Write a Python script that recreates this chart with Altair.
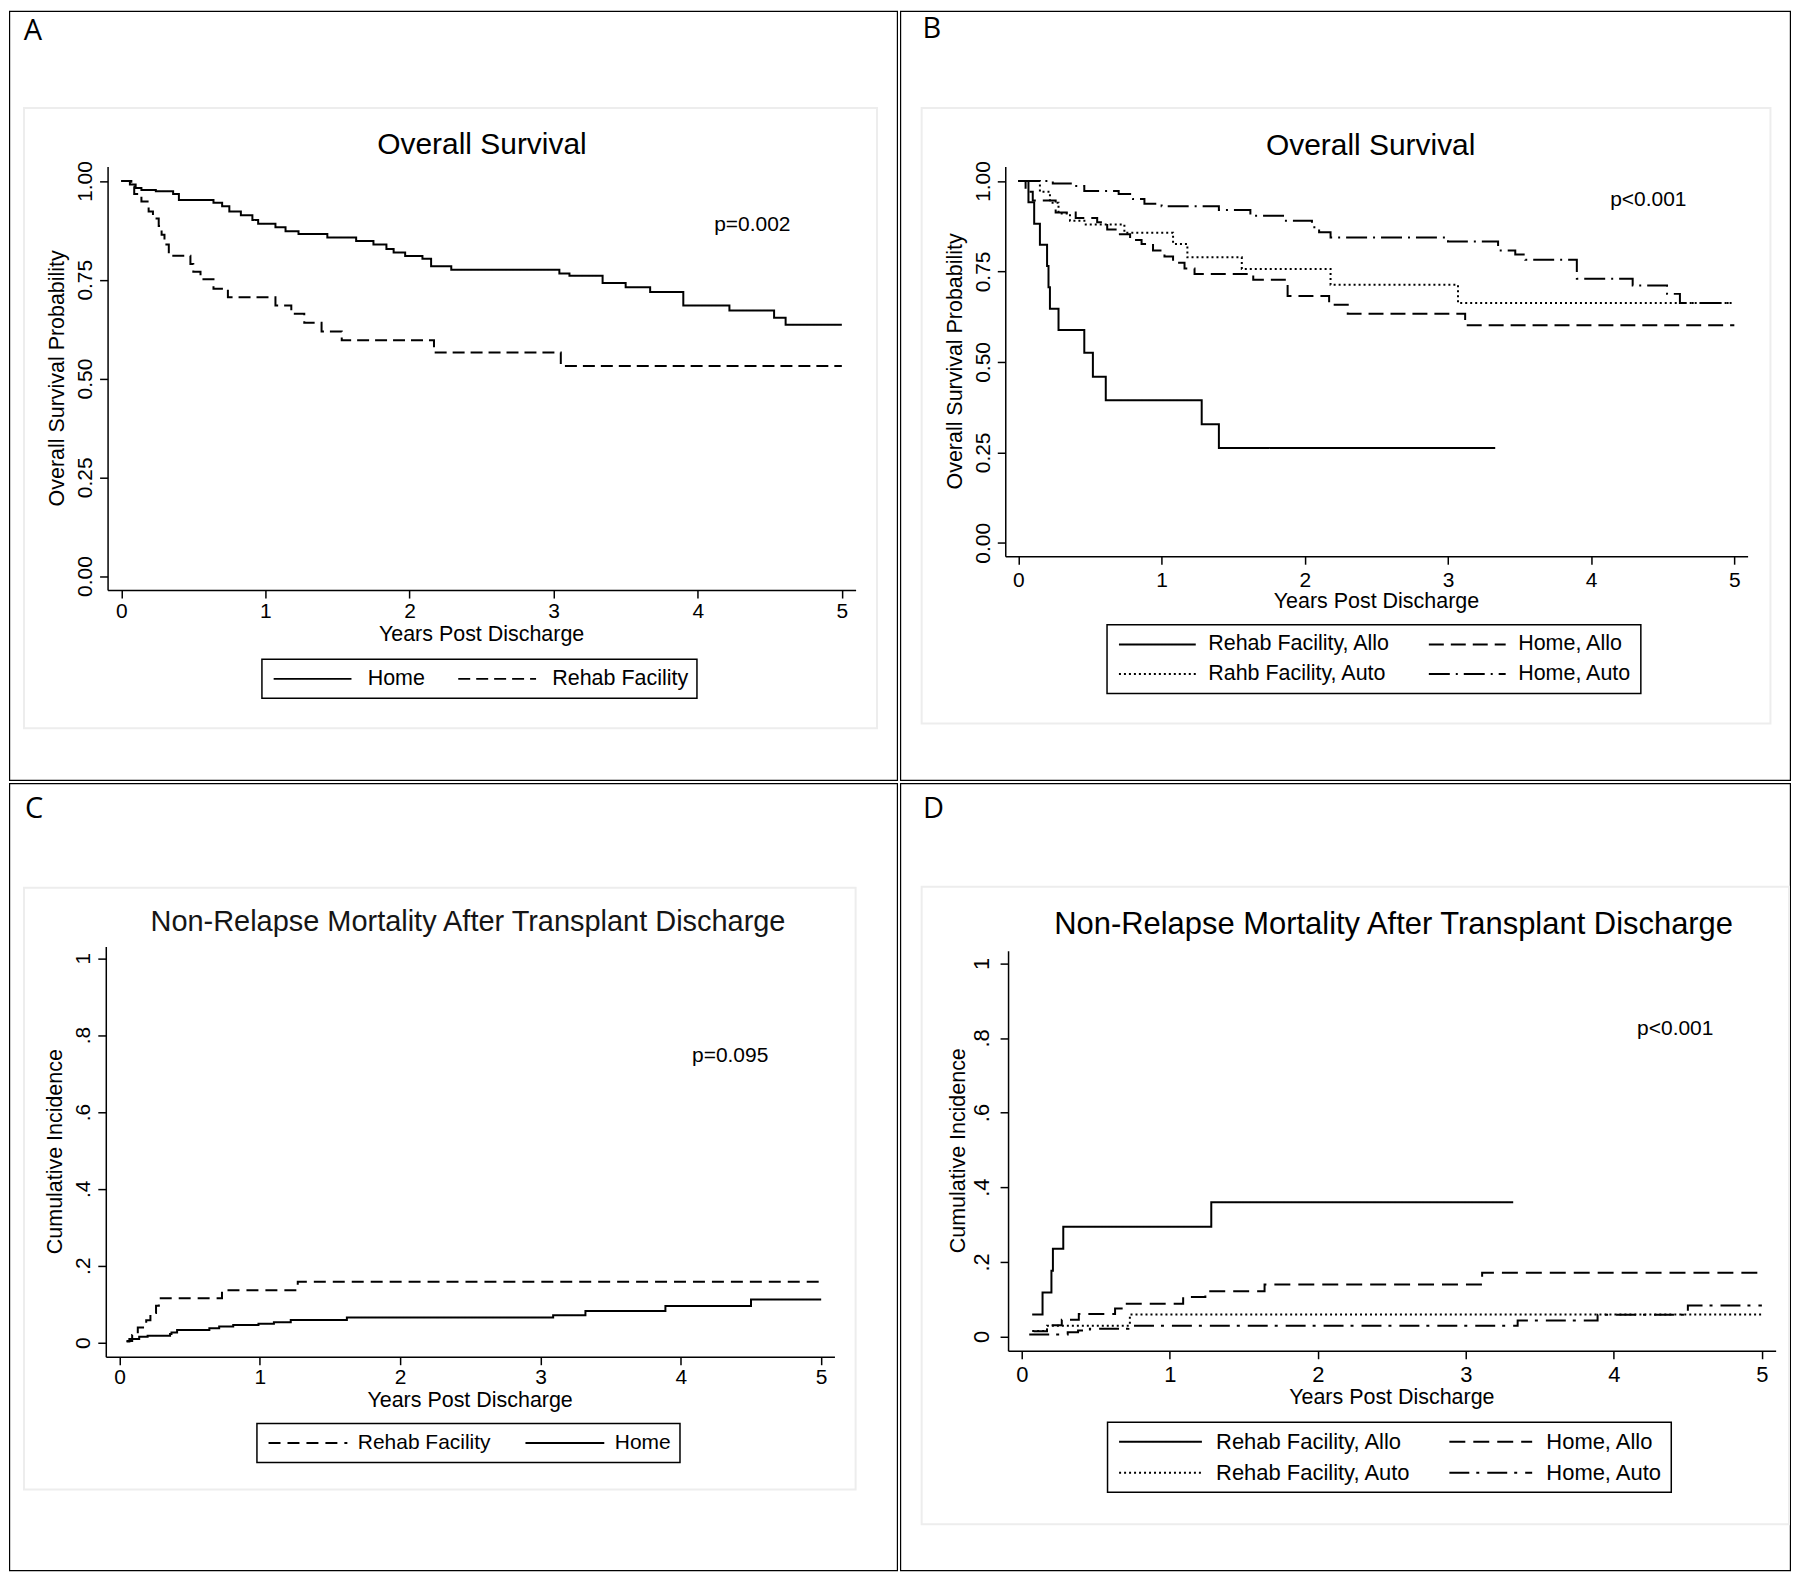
import altair as alt
import pandas as pd

# ---------------- data ----------------
# Panel A : Overall survival by discharge destination
A_home_t = [0, 0.06, 0.10, 0.14, 0.24, 0.36, 0.40, 0.64, 0.70, 0.75, 0.83, 0.91, 0.95, 1.07, 1.14, 1.23, 1.43, 1.63, 1.75, 1.84,
            1.89, 1.97, 2.09, 2.15, 2.29, 3.04, 3.11, 3.34, 3.50, 3.67, 3.90, 4.22, 4.53, 4.61, 5.0]
A_home_v = [1.0, 0.991, 0.982, 0.977, 0.974, 0.967, 0.952, 0.945, 0.936, 0.923, 0.913, 0.901, 0.892, 0.883, 0.873, 0.866, 0.857, 0.848, 0.839, 0.828,
            0.819, 0.810, 0.803, 0.784, 0.775, 0.766, 0.760, 0.742, 0.731, 0.719, 0.685, 0.672, 0.654, 0.636, 0.636]
A_rehab_t = [0, 0.07, 0.09, 0.14, 0.19, 0.22, 0.26, 0.28, 0.30, 0.33, 0.48, 0.50, 0.55, 0.64, 0.74, 1.07, 1.18, 1.27, 1.39, 1.53, 2.17, 3.05, 5.0]
A_rehab_v = [1.0, 0.986, 0.967, 0.948, 0.923, 0.905, 0.886, 0.864, 0.839, 0.811, 0.790, 0.770, 0.751, 0.727, 0.706, 0.685, 0.664, 0.641, 0.619, 0.597, 0.566, 0.532, 0.532]

# Panel B : Overall survival by destination and transplant type
B_rallo_t = [0, 0.07, 0.11, 0.15, 0.20, 0.21, 0.22, 0.28, 0.46, 0.52, 0.61, 1.28, 1.40, 3.33]
B_rallo_v = [1.0, 0.941, 0.882, 0.824, 0.765, 0.706, 0.647, 0.588, 0.525, 0.459, 0.394, 0.328, 0.262, 0.262]
B_hallo_t = [0, 0.05, 0.10, 0.26, 0.40, 0.55, 0.62, 0.70, 0.78, 0.86, 0.94, 1.02, 1.08, 1.16, 1.23, 1.64, 1.88, 2.17, 2.30, 3.12, 5.0]
B_hallo_v = [1.0, 0.97, 0.946, 0.913, 0.898, 0.886, 0.866, 0.853, 0.837, 0.826, 0.808, 0.791, 0.774, 0.758, 0.743, 0.727, 0.682, 0.658, 0.633, 0.601, 0.601]
B_rauto_t = [0, 0.15, 0.22, 0.28, 0.36, 0.47, 0.74, 1.08, 1.18, 1.56, 2.18, 3.07, 5.0]
B_rauto_v = [1.0, 0.97, 0.94, 0.91, 0.89, 0.88, 0.857, 0.826, 0.789, 0.757, 0.713, 0.663, 0.663]
B_hauto_t = [0, 0.24, 0.38, 0.46, 0.70, 0.80, 0.88, 1.00, 1.40, 1.62, 1.86, 2.05, 2.10, 2.18, 3.00, 3.35, 3.47, 3.54, 3.90, 4.29, 4.53, 4.62, 5.0]
B_hauto_v = [1.0, 0.993, 0.986, 0.972, 0.964, 0.95, 0.937, 0.93, 0.92, 0.904, 0.89, 0.872, 0.858, 0.844, 0.833, 0.808, 0.797, 0.782, 0.73, 0.711, 0.688, 0.663, 0.663]

# Panel C : Non-relapse mortality by destination
C_rehab_t = [0.05, 0.09, 0.13, 0.19, 0.22, 0.26, 0.28, 0.73, 1.27, 5.0]
C_rehab_v = [0.004, 0.02, 0.039, 0.058, 0.077, 0.096, 0.115, 0.136, 0.158, 0.158]
C_home_t = [0.05, 0.07, 0.14, 0.20, 0.36, 0.37, 0.41, 0.64, 0.71, 0.81, 0.99, 1.10, 1.22, 1.62, 3.09, 3.32, 3.89, 4.50, 5.0]
C_home_v = [0.003, 0.009, 0.015, 0.018, 0.022, 0.026, 0.033, 0.037, 0.042, 0.046, 0.049, 0.053, 0.059, 0.065, 0.071, 0.082, 0.095, 0.112, 0.112]

# Panel D : Non-relapse mortality by destination and transplant type
D_rallo_t = [0.07, 0.14, 0.20, 0.21, 0.28, 1.28, 3.32]
D_rallo_v = [0.059, 0.118, 0.176, 0.235, 0.294, 0.36, 0.36]
D_hallo_t = [0.08, 0.17, 0.27, 0.385, 0.63, 0.70, 1.09, 1.24, 1.64, 3.11, 5.0]
D_hallo_v = [0.014, 0.03, 0.045, 0.06, 0.075, 0.088, 0.106, 0.121, 0.139, 0.171, 0.171]
D_rauto_t = [0.07, 0.17, 0.73, 5.0]
D_rauto_v = [0.015, 0.029, 0.059, 0.059]
D_hauto_t = [0.05, 0.31, 0.38, 0.46, 0.72, 3.35, 3.89, 4.5, 5.0]
D_hauto_v = [0.005, 0.011, 0.016, 0.021, 0.029, 0.043, 0.058, 0.083, 0.083]

X_TICKS = [0, 1, 2, 3, 4, 5]
OS_TICKS = [0, 0.25, 0.5, 0.75, 1.0]
CI_TICKS = [0, 0.2, 0.4, 0.6, 0.8, 1.0]

FONT = "Liberation Sans"
LETTER_FONT = "Open Sans"

SOLID = [1, 0]
DOT = [2, 3]


def long_df(groups):
    rows = []
    for name, ts, vs in groups:
        for t, v in zip(ts, vs):
            rows.append({"t": t, "v": v, "grp": name})
    return pd.DataFrame(rows)


def one():
    return alt.Chart(pd.DataFrame({"k": [0]}))


def panel(c, df, order, dashes, yticks, ylabexpr):
    ox, oy, W, H = c["ox"], c["oy"], c["W"], c["H"]
    x0, x5 = c["x0"] - ox, c["x5"] - ox
    ppx = (x5 - x0) / 5.0
    axl, axr = c["axl"] - ox, c["axr"] - ox
    y1, y0 = c["y1"] - oy, c["y0"] - oy
    ppy = y0 - y1
    axt, axb = c["axt"] - oy, c["axb"] - oy
    xdom = [(axl - x0) / ppx, (axr - x0) / ppx]
    ydom = [(y0 - axb) / ppy, (y0 - axt) / ppy]
    tick = 8
    tfs = c["tfs"]
    xlabpad = (c["xlab"] - oy) - 0.432 * tfs - axb - tick
    ylabpad = axl - tick - ((c["ylab"] - ox) + 0.568 * tfs)

    border = one().mark_rect(fillOpacity=0, stroke="black", strokeWidth=1.2).encode(
        x=alt.value(0.6), x2=alt.value(W - 0.6), y=alt.value(0.6), y2=alt.value(H - 0.6))
    g = c["gbox"]
    gray = one().mark_rect(fillOpacity=0, stroke="#ededed", strokeWidth=2).encode(
        x=alt.value(g[0] - ox), x2=alt.value(min(g[2] - ox, W - 2)),
        y=alt.value(g[1] - oy), y2=alt.value(g[3] - oy))
    letter = one().mark_text(text=c["letter"], font=LETTER_FONT, fontSize=29, align="left",
                             baseline="alphabetic", color="black").encode(
        x=alt.value(c["lx"] - ox), y=alt.value(c["ly"] - oy))
    title = one().mark_text(text=c["title"], font=FONT, fontSize=c["titlefs"], align="center",
                            baseline="middle", color=c.get("titlecolor", "black")).encode(
        x=alt.value(c["tx"] - ox), y=alt.value(c["ty"] - oy))
    ptext = one().mark_text(text=c["p"], font=FONT, fontSize=21, align="center",
                            baseline="middle", color="black").encode(
        x=alt.value(c["px"] - ox), y=alt.value(c["py"] - oy))
    xtitle = one().mark_text(text="Years Post Discharge", font=FONT, fontSize=21.5, align="center",
                             baseline="middle", color="black").encode(
        x=alt.value((axl + axr) / 2), y=alt.value(axb + c.get("xtoff", 45.5)))
    ytitle = one().mark_text(text=c["ytitle"], font=FONT, fontSize=21.5, align="center",
                             baseline="middle", angle=270, color="black").encode(
        x=alt.value(axl - 49.5), y=alt.value((axt + axb) / 2))

    L = c["L"]
    slot = L / 6.0
    leg = alt.Legend(
        title=None, orient="none", legendX=c["legx"] - ox, legendY=c["legy"] - oy,
        columns=2, strokeColor="black", padding=c["lpad"],
        symbolType="M-6,0H6", symbolSize=slot * slot, symbolStrokeWidth=2,
        symbolStrokeColor="black", symbolOffset=L / 2.0 - 0.5 * (slot + 2),
        labelFont=FONT, labelFontSize=c["lfs"], labelColor="black",
        labelOffset=c["loff"], labelLimit=500, columnPadding=c["colgap"],
        rowPadding=c.get("rowpad", 2),
    )

    xaxis = alt.Axis(values=X_TICKS, format="d", title=None, offset=axb - H, grid=False,
                     tickSize=tick, tickWidth=1.5, tickColor="black", domainColor="black",
                     domainWidth=1.5, labelColor="black", labelFont=FONT, labelFontSize=tfs,
                     labelPadding=xlabpad, labelFlush=False, labelOverlap=False)
    yaxis = alt.Axis(values=yticks, labelExpr=ylabexpr, title=None, offset=-axl, grid=False,
                     tickSize=tick, tickWidth=1.5, tickColor="black", domainColor="black",
                     domainWidth=1.5, labelColor="black", labelFont=FONT, labelFontSize=tfs,
                     labelPadding=ylabpad, labelAngle=270, labelAlign="center",
                     labelBaseline="bottom", labelFlush=False, labelOverlap=False)

    lines = alt.Chart(df).mark_line(interpolate="step-after", strokeWidth=2, color="black").encode(
        x=alt.X("t:Q", scale=alt.Scale(domain=xdom, range=[axl, axr], nice=False, zero=False), axis=xaxis),
        y=alt.Y("v:Q", scale=alt.Scale(domain=ydom, range=[axb, axt], nice=False, zero=False), axis=yaxis),
        strokeDash=alt.StrokeDash("grp:N", scale=alt.Scale(domain=order, range=dashes), legend=leg),
    )
    return alt.layer(border, gray, letter, title, ptext, xtitle, ytitle, lines).properties(width=W, height=H)


OS_LAB = "format(datum.value, '.2f')"
CI_LAB = "datum.value == 0 ? '0' : datum.value == 1 ? '1' : '.' + format(round(datum.value * 10), 'd')"

cfgA = dict(ox=8, oy=8, W=891, H=772, x0=120.5, x5=842.7, axl=106.8, axr=856.5,
            y1=178.6, y0=574.6, axt=164.2, axb=588.6, tfs=21, xlab=608.5, ylab=83,
            letter="A", lx=22.7, ly=37.5, title="Overall Survival", titlefs=30, tx=482, ty=143,
            p="p=0.002", px=753, py=223, gbox=(23, 105.5, 878, 727),
            ytitle="Overall Survival Probability",
            L=78, legx=261.5, legy=658, lpad=8.5, lfs=21.5, loff=44.5, colgap=29)
cfgB = dict(ox=899, oy=8, W=893, H=772, x0=1017.7, x5=1735.2, axl=1004.5, axr=1748.5,
            y1=178.6, y0=541.3, axt=164.2, axb=554.7, tfs=21, xlab=577.3, ylab=980.4,
            letter="B", lx=921.5, ly=35.5, title="Overall Survival", titlefs=30, tx=1370.7, ty=143.5,
            p="p<0.001", px=1649, py=197.5, gbox=(920.7, 105.5, 1771.4, 722.4),
            ytitle="Overall Survival Probability",
            L=77, legx=1106.5, legy=623.4, lpad=8.6, lfs=21.5, loff=40.3, colgap=33.6, rowpad=7)
cfgC = dict(ox=8, oy=780, W=891, H=790, x0=118.8, x5=822, axl=105, axr=835.3,
            y1=955.6, y0=1340.8, axt=943.9, axb=1355, tfs=21, xlab=1373.5, ylab=80.4,
            letter="C", lx=24, ly=815.5, title="Non-Relapse Mortality After Transplant Discharge",
            titlefs=29, titlecolor="#151515", tx=468, ty=919.5,
            p="p=0.095", px=730.8, py=1054, gbox=(23, 885, 856.5, 1488),
            ytitle="Cumulative Incidence", xtoff=44.5,
            L=79, legx=256.5, legy=1422, lpad=8.7, lfs=21, loff=39.5, colgap=29.5)
cfgD = dict(ox=899, oy=780, W=893, H=790, x0=1021.1, x5=1762.8, axl=1007.3, axr=1776.6,
            y1=960.7, y0=1334.7, axt=948, axb=1349, tfs=22, xlab=1372.2, ylab=980.4,
            letter="D", lx=922, ly=815.5, title="Non-Relapse Mortality After Transplant Discharge",
            titlefs=31, tx=1393.7, ty=922.5,
            p="p<0.001", px=1676, py=1027, gbox=(920.7, 884, 1800, 1523),
            ytitle="Cumulative Incidence", xtoff=47.5,
            L=83, legx=1107, legy=1420.7, lpad=8.5, lfs=22, loff=44.7, colgap=34, rowpad=9)

dfA = long_df([("Home", A_home_t, A_home_v), ("Rehab Facility", A_rehab_t, A_rehab_v)])
dfB = long_df([("Rehab Facility, Allo", B_rallo_t, B_rallo_v), ("Home, Allo", B_hallo_t, B_hallo_v),
               ("Rahb Facility, Auto", B_rauto_t, B_rauto_v), ("Home, Auto", B_hauto_t, B_hauto_v)])
dfC = long_df([("Rehab Facility", C_rehab_t, C_rehab_v), ("Home", C_home_t, C_home_v)])
dfD = long_df([("Rehab Facility, Allo", D_rallo_t, D_rallo_v), ("Home, Allo", D_hallo_t, D_hallo_v),
               ("Rehab Facility, Auto", D_rauto_t, D_rauto_v), ("Home, Auto", D_hauto_t, D_hauto_v)])

# legend entries fill column by column: left column first, then right column
pA = panel(cfgA, dfA, ["Home", "Rehab Facility"], [SOLID, [12, 6]], OS_TICKS, OS_LAB)
pB = panel(cfgB, dfB, ["Rehab Facility, Allo", "Rahb Facility, Auto", "Home, Allo", "Home, Auto"],
           [SOLID, DOT, [15, 7], [21, 6, 2, 6]], OS_TICKS, OS_LAB)
pC = panel(cfgC, dfC, ["Rehab Facility", "Home"], [[12, 7], SOLID], CI_TICKS, CI_LAB)
pD = panel(cfgD, dfD, ["Rehab Facility, Allo", "Rehab Facility, Auto", "Home, Allo", "Home, Auto"],
           [SOLID, DOT, [16, 8], [20, 7, 3, 8]], CI_TICKS, CI_LAB)

row1 = alt.hconcat(pA, pB, spacing=0).resolve_scale(strokeDash="independent").resolve_legend(strokeDash="independent")
row2 = alt.hconcat(pC, pD, spacing=0).resolve_scale(strokeDash="independent").resolve_legend(strokeDash="independent")
chart = (
    alt.vconcat(row1, row2, spacing=0)
    .resolve_scale(strokeDash="independent")
    .resolve_legend(strokeDash="independent")
    .properties(padding=0, background="white")
    .configure_view(stroke="transparent")
    .configure_legend(strokeWidth=1.5)
)

chart.save("out.html", embed_options={"renderer": "svg", "actions": False})
